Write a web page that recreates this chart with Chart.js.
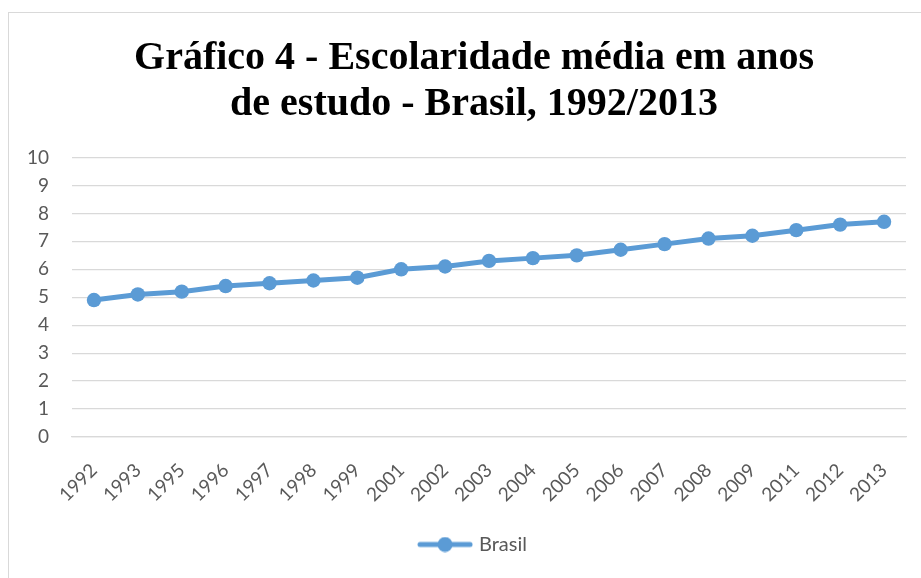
<!DOCTYPE html>
<html>
<head>
<meta charset="utf-8">
<script src="https://cdn.jsdelivr.net/npm/chart.js@4.4.1/dist/chart.umd.min.js"></script>
<style>
  html, body { margin: 0; padding: 0; background: #fff; overflow: hidden; }
  #wrap { position: relative; width: 921px; height: 578px; }
  #frame { position: absolute; left: 8px; top: 12px; width: 940px; height: 600px; border: 1px solid #d9d9d9; box-sizing: border-box; }
  canvas { position: absolute; left: 0; top: 0; }
</style>
</head>
<body>
<div id="wrap">
  <div id="frame"></div>
  <canvas id="chart" width="921" height="578"></canvas>
</div>
<script>
const anos = ['1992', '1993', '1995', '1996', '1997', '1998', '1999', '2001', '2002', '2003',
              '2004', '2005', '2006', '2007', '2008', '2009', '2011', '2012', '2013'];
const brasil = [4.9, 5.1, 5.2, 5.4, 5.5, 5.6, 5.7, 6.0, 6.1, 6.3,
                6.4, 6.5, 6.7, 6.9, 7.1, 7.2, 7.4, 7.6, 7.7];
const yMin = 0;
const yMax = 10;
const tituloLinhas = ['Gráfico 4 - Escolaridade média em anos', 'de estudo - Brasil, 1992/2013'];

const azul = '#5B9BD5';
const cinzaTexto = '#595959';
const cinzaGrade = '#d9d9d9';
const fonteEixo = 'Lato, "Open Sans", sans-serif';

// legend icon: line with a dot in the middle, like the Excel legend
function legendIcon() {
  const c = document.createElement('canvas');
  c.width = 56; c.height = 16;
  const g = c.getContext('2d');
  g.strokeStyle = azul;
  g.lineWidth = 5;
  g.lineCap = 'round';
  g.beginPath(); g.moveTo(3, 8); g.lineTo(53, 8); g.stroke();
  g.fillStyle = azul;
  g.beginPath(); g.arc(28, 8, 7.5, 0, Math.PI * 2); g.fill();
  return c;
}
const icone = legendIcon();

// the original frame is wider than the visible crop, so title and legend sit a bit right of centre
const centrarNoQuadro = {
  id: 'centrarNoQuadro',
  afterLayout(chart) {
    if (chart.titleBlock) chart.titleBlock.left += 34;
    if (chart.legend) chart.legend.left += 34;
  }
};

new Chart(document.getElementById('chart'), {
  type: 'line',
  data: {
    labels: anos,
    datasets: [{
      label: 'Brasil',
      data: brasil,
      borderColor: azul,
      backgroundColor: azul,
      borderWidth: 5,
      pointRadius: 7.2,
      pointHoverRadius: 7.2,
      pointBorderWidth: 0,
      pointBackgroundColor: azul,
      tension: 0
    }]
  },
  plugins: [centrarNoQuadro],
  options: {
    responsive: false,
    animation: false,
    layout: { padding: { top: 0, left: 8, right: 15, bottom: 13.5 } },
    plugins: {
      title: {
        display: true,
        text: tituloLinhas,
        color: '#000',
        font: { family: '"Liberation Serif", "Times New Roman", serif', size: 40, weight: 'bold', lineHeight: 1.15 },
        padding: { top: 36, bottom: 29.5 }
      },
      legend: {
        position: 'bottom',
        labels: {
          usePointStyle: true,
          pointStyleWidth: 48,
          color: cinzaTexto,
          font: { family: fonteEixo, size: 20 },
          padding: 8,
          generateLabels: () => [{
            text: 'Brasil',
            pointStyle: icone,
            fontColor: cinzaTexto,
            datasetIndex: 0,
            lineWidth: 0
          }]
        }
      },
      tooltip: { enabled: false }
    },
    scales: {
      x: {
        offset: true,
        grid: { display: false },
        border: { display: true, color: cinzaGrade, width: 1.3 },
        ticks: {
          color: cinzaTexto,
          font: { family: fonteEixo, size: 19 },
          minRotation: 45,
          maxRotation: 45,
          autoSkip: false,
          padding: 14
        },
        afterFit: (s) => { s.height = 89.5; }
      },
      y: {
        min: yMin,
        max: yMax,
        grid: { color: cinzaGrade, lineWidth: 1.3, drawTicks: false },
        border: { display: false },
        ticks: {
          stepSize: 1,
          color: cinzaTexto,
          font: { family: fonteEixo, size: 19 },
          padding: 23
        },
        afterFit: (s) => { s.width = 64; }
      }
    }
  }
});
</script>
</body>
</html>
